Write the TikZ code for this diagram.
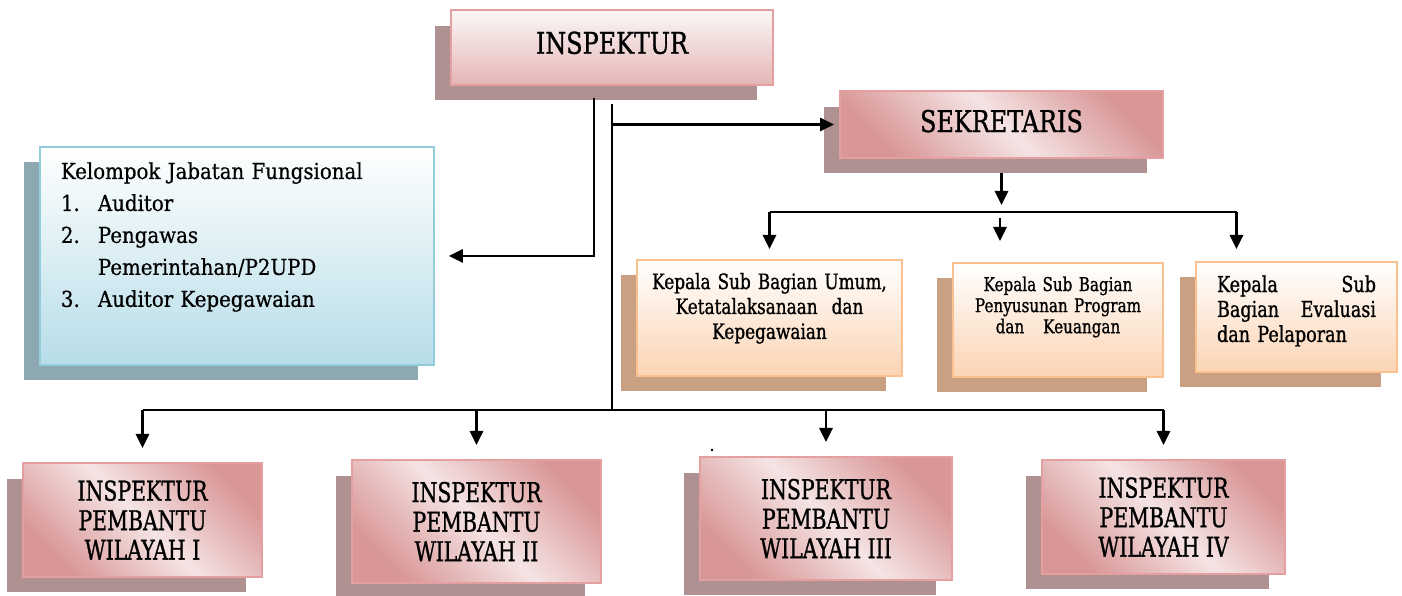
\documentclass[tikz,border=0pt]{standalone}
\usepackage{fontspec}
\setmainfont[FakeStretch=0.9,FakeBold=0.6]{DejaVu Serif}
\newfontfamily\headfont[FakeStretch=0.8,FakeBold=1]{DejaVu Serif}
\newfontfamily\wilfont[FakeStretch=0.75,FakeBold=1]{DejaVu Serif}
\newfontfamily\subfont[FakeStretch=0.8,FakeBold=1]{DejaVu Serif}
\usepackage{xcolor}
\usepackage{tikz}
\usetikzlibrary{arrows.meta,positioning,shadows}

\definecolor{pinkdark}{RGB}{217,150,150}
\definecolor{pinklight}{RGB}{245,228,228}
\definecolor{pinkline}{RGB}{228,160,160}
\definecolor{pinkshade}{RGB}{176,145,145}
\definecolor{bluefill}{RGB}{183,221,232}
\definecolor{blueline}{RGB}{146,205,220}
\definecolor{blueshade}{RGB}{141,168,176}
\definecolor{orangefill}{RGB}{251,212,180}
\definecolor{orangeline}{RGB}{250,192,143}
\definecolor{orangeshade}{RGB}{201,161,130}

\begin{document}
\begin{tikzpicture}[x=0.02cm,y=-0.02cm,
  pinkbox/.style={rectangle,draw=pinkline,line width=1.1pt,align=center,inner sep=0pt,
    general shadow={fill=pinkshade,shadow xshift=-0.32cm,shadow yshift=-0.31cm}},
  headbox/.style={pinkbox,top color=white!70!pinklight,bottom color=pinkdark!70!white,
    font=\headfont\fontsize{17}{20}\selectfont},
  wilbox/.style={pinkbox,top color=pinkdark,bottom color=pinkdark,middle color=pinklight,
    shading angle=-45,font=\wilfont\fontsize{15.5}{16.8}\selectfont},
  fungbox/.style={rectangle,draw=blueline,line width=1.1pt,top color=white,bottom color=bluefill,
    general shadow={fill=blueshade,shadow xshift=-0.32cm,shadow yshift=-0.3cm},
    align=left,inner ysep=0pt,font=\fontsize{12.5}{18.2}\selectfont},
  subbox/.style={rectangle,draw=orangeline,line width=1.1pt,top color=white,bottom color=orangefill,
    general shadow={fill=orangeshade,shadow xshift=-0.32cm,shadow yshift=-0.3cm},inner ysep=0pt},
  line/.style={line width=1.4pt},
  conn/.style={line width=1.4pt,-{Triangle[length=8pt,width=7.5pt]}}]
\useasboundingbox (0,0) rectangle (1402,595);

\node[headbox,minimum width=6.44cm,minimum height=1.5cm,text height=0.5cm,text depth=0.25cm] (insp) at (612,47.5) {INSPEKTUR};
\node[headbox,top color=pinkdark,bottom color=pinkdark,middle color=pinklight,shading angle=-45,
  minimum width=6.46cm,minimum height=1.34cm,text height=0.45cm,text depth=0.15cm] (sek) at (1001.5,124.5) {SEKRETARIS};

\node[fungbox,anchor=north west,minimum width=7.88cm,inner xsep=0.42cm,text width=7.04cm,
  text height=0.64cm,text depth=3.72cm] (kel) at (39,146)
  {Kelompok Jabatan Fungsional\\
   \makebox[0.74cm][l]{1.}Auditor\\
   \makebox[0.74cm][l]{2.}Pengawas\\
   \hspace*{0.74cm}Pemerintahan/P2UPD\\
   \makebox[0.74cm][l]{3.}Auditor Kepegawaian};

\node[subbox,minimum width=5.3cm,inner xsep=0.15cm,text width=5cm,align=center,
  text height=0.58cm,text depth=1.74cm,font=\subfont\fontsize{12}{14.2}\selectfont] (subA) at (769.5,318)
  {Kepala Sub Bagian Umum,\\ Ketatalaksanaan\ \ dan\\ Kepegawaian};
\node[subbox,minimum width=4.2cm,inner xsep=0.2cm,text width=3.8cm,align=center,
  text height=0.56cm,text depth=1.72cm,font=\subfont\fontsize{10.8}{12}\selectfont] (subB) at (1058,320)
  {Kepala Sub Bagian\\ Penyusunan Program\\ dan\ \ \ Keuangan};
\node[subbox,minimum width=4.02cm,inner xsep=0.42cm,text width=3.18cm,align=left,
  text height=0.6cm,text depth=1.6cm,font=\subfont\fontsize{12.5}{14.2}\selectfont] (subC) at (1296.5,317)
  {Kepala\hfill Sub\\ Bagian\hfill Evaluasi\\ dan Pelaporan};

\node[wilbox,minimum width=4.78cm,minimum height=2.28cm] (w1) at (142.5,520) {INSPEKTUR\\PEMBANTU\\WILAYAH I};
\node[wilbox,minimum width=4.98cm,minimum height=2.46cm] (w2) at (476.5,521.5) {INSPEKTUR\\PEMBANTU\\WILAYAH II};
\node[wilbox,minimum width=5.04cm,minimum height=2.46cm] (w3) at (826,518.5) {INSPEKTUR\\PEMBANTU\\WILAYAH III};
\node[wilbox,minimum width=4.86cm,minimum height=2.28cm] (w4) at (1163.5,517) {INSPEKTUR\\PEMBANTU\\WILAYAH IV};
\node[inner sep=0pt,font=\fontsize{10}{10}\selectfont] (dot) at (712,450) {.};

% lines from inspektur
\coordinate (bus) at (611,410);
\draw[conn,shorten <=0.24cm,shorten >=0.28cm] ([xshift=-0.36cm]insp.south) |- (kel.east);
\draw[line,shorten <=0.36cm] (insp.south) -- (insp.south |- bus);
\draw[conn,shorten >=0.1cm] (insp.south |- sek.west) -- (sek.west);
\draw[line] (w1.north |- bus) -- (w4.north |- bus);
\foreach \w in {w1,w2,w3,w4}
  \draw[conn,shorten >=0.28cm] (\w.north |- bus) -- (\w.north);

% lines from sekretaris
\coordinate (sbar) at (1000,212);
\coordinate (cdrop) at ([xshift=-1.2cm]subC.north);
\draw[conn,shorten <=0.28cm,shorten >=0.14cm] (sek.south) -- (sek.south |- sbar);
\draw[line] (subA.north |- sbar) -- (cdrop |- sbar);
\draw[conn,shorten >=0.2cm] (subA.north |- sbar) -- (subA.north);
\draw[conn,shorten <=0.12cm,shorten >=0.42cm] (sbar) -- (sbar |- subB.north);
\draw[conn,shorten >=0.24cm] (cdrop |- sbar) -- (cdrop);
\end{tikzpicture}
\end{document}
